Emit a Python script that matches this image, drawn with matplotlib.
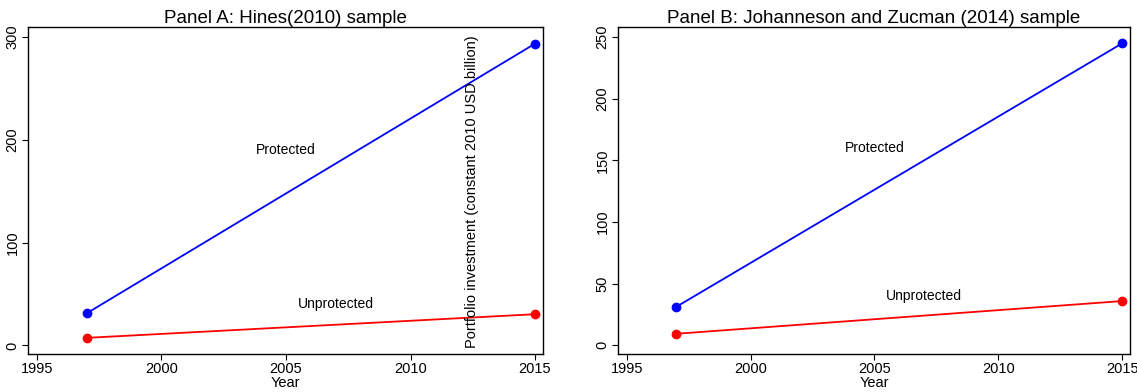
import matplotlib.pyplot as plt

plt.rcParams["font.family"] = ["Liberation Sans", "DejaVu Sans"]

years = [1997, 2015]

# Panel A: Hines (2010) sample
a_protected = [31.3, 293.5]
a_unprotected = [7.4, 30.4]

# Panel B: Johanneson and Zucman (2014) sample
b_protected = [31.3, 244.7]
b_unprotected = [9.4, 35.9]

x_ticks = [1995, 2000, 2005, 2010, 2015]
a_y_ticks = [0, 100, 200, 300]
b_y_ticks = [0, 50, 100, 150, 200, 250]

fig = plt.figure(figsize=(11.37, 3.92), dpi=100)
W, H = 1137, 392

def make_axes(left, right, top=27, bottom=354):
    return fig.add_axes([left / W, 1 - bottom / H, (right - left) / W, (bottom - top) / H])

ax_a = make_axes(28, 543)
ax_b = make_axes(618, 1130)

panels = [
    (ax_a, a_protected, a_unprotected, a_y_ticks, (-8.3, 309.7),
     "Panel A: Hines(2010) sample", (190, 40)),
    (ax_b, b_protected, b_unprotected, b_y_ticks, (-7, 258),
     "Panel B: Johanneson and Zucman (2014) sample", (160, 40)),
]

for ax, prot, unprot, yt, ylim, title, label_y in panels:
    ax.plot(years, prot, color="blue", lw=1.3, marker="o", ms=6)
    ax.plot(years, unprot, color="red", lw=1.3, marker="o", ms=6)
    ax.set_xlim(1994.64, 2015.32)
    ax.set_ylim(*ylim)
    ax.set_xticks(x_ticks)
    ax.set_yticks(yt)
    ax.set_yticklabels([str(v) for v in yt], rotation=90, va="center")
    ax.tick_params(labelsize=10.5, length=4, width=0.8, pad=2)
    ax.tick_params(axis="x", pad=2)
    ax.set_title(title, fontsize=13.5, pad=3)
    ax.set_xlabel("Year", fontsize=10.5, labelpad=0)
    ax.text(2005, label_y[0], "Protected", ha="center", va="center", fontsize=10)
    ax.text(2007, label_y[1], "Unprotected", ha="center", va="center", fontsize=10)
    for s in ax.spines.values():
        s.set_linewidth(1.0)

fig.text(472 / W, 1 - 192 / H, "Portfolio investment (constant 2010 USD billion)",
         rotation=90, ha="center", va="center", fontsize=10.5)

fig.savefig("out.png", dpi=100)
